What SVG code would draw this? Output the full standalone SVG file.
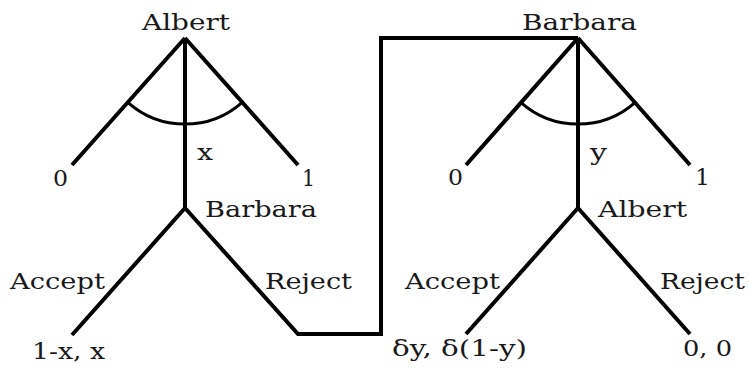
<svg xmlns="http://www.w3.org/2000/svg" width="750" height="368" viewBox="0 0 750 368">
<style>
.e{stroke:#000;stroke-width:4;fill:none;stroke-linejoin:miter}
.a{stroke:#000;stroke-width:3;fill:none}
text{font-family:"DejaVu Serif","Liberation Serif",serif;font-size:22px;fill:#1a1a1a}
</style>
<rect width="750" height="368" fill="#fff"/>
<g id="connectors">
<line class="e" x1="185" y1="38" x2="72" y2="165"/>
<line class="e" x1="185" y1="38" x2="298" y2="165"/>
<line class="e" x1="185" y1="38" x2="185" y2="208"/>
<path class="a" d="M127.8,102.3 A86,86 0 0 0 242.2,102.3"/>
<line class="e" x1="185" y1="208" x2="72" y2="335"/>
<path class="e" d="M185,208 L298,334 L381,334 L381,38 L578,38"/>
<line class="e" x1="578" y1="38" x2="466" y2="165"/>
<line class="e" x1="578" y1="38" x2="690" y2="165"/>
<line class="e" x1="578" y1="38" x2="578" y2="208"/>
<path class="a" d="M520.8,102.3 A86,86 0 0 0 635.2,102.3"/>
<line class="e" x1="578" y1="208" x2="466" y2="334"/>
<line class="e" x1="578" y1="208" x2="690" y2="334"/>
</g>
<g id="albert-root"><text x="142" y="30" textLength="88" lengthAdjust="spacingAndGlyphs">Albert</text></g>
<g id="offer-x"><text x="197" y="160" textLength="16" lengthAdjust="spacingAndGlyphs">x</text></g>
<g id="left-0"><text x="53" y="186" textLength="15" lengthAdjust="spacingAndGlyphs">0</text></g>
<g id="left-1"><text x="302" y="186" textLength="13" lengthAdjust="spacingAndGlyphs">1</text></g>
<g id="barbara-respond"><text x="205" y="217" textLength="112" lengthAdjust="spacingAndGlyphs">Barbara</text></g>
<g id="left-accept-label"><text x="10" y="289" textLength="95" lengthAdjust="spacingAndGlyphs">Accept</text></g>
<g id="left-reject-label"><text x="265" y="289" textLength="87" lengthAdjust="spacingAndGlyphs">Reject</text></g>
<g id="payoff-1"><text x="32" y="359" textLength="73" lengthAdjust="spacingAndGlyphs">1-x, x</text></g>
<g id="barbara-root"><text x="522" y="30" textLength="115" lengthAdjust="spacingAndGlyphs">Barbara</text></g>
<g id="offer-y"><text x="590" y="160" textLength="17" lengthAdjust="spacingAndGlyphs">y</text></g>
<g id="right-0"><text x="448" y="185" textLength="15" lengthAdjust="spacingAndGlyphs">0</text></g>
<g id="right-1"><text x="695" y="185" textLength="15" lengthAdjust="spacingAndGlyphs">1</text></g>
<g id="albert-respond"><text x="598" y="217" textLength="89" lengthAdjust="spacingAndGlyphs">Albert</text></g>
<g id="right-accept-label"><text x="405" y="289" textLength="95" lengthAdjust="spacingAndGlyphs">Accept</text></g>
<g id="right-reject-label"><text x="660" y="289" textLength="85" lengthAdjust="spacingAndGlyphs">Reject</text></g>
<g id="payoff-2"><text x="392" y="356" textLength="135" lengthAdjust="spacingAndGlyphs">δy, δ(1-y)</text></g>
<g id="payoff-3"><text x="683" y="356" textLength="49" lengthAdjust="spacingAndGlyphs">0, 0</text></g>
</svg>
